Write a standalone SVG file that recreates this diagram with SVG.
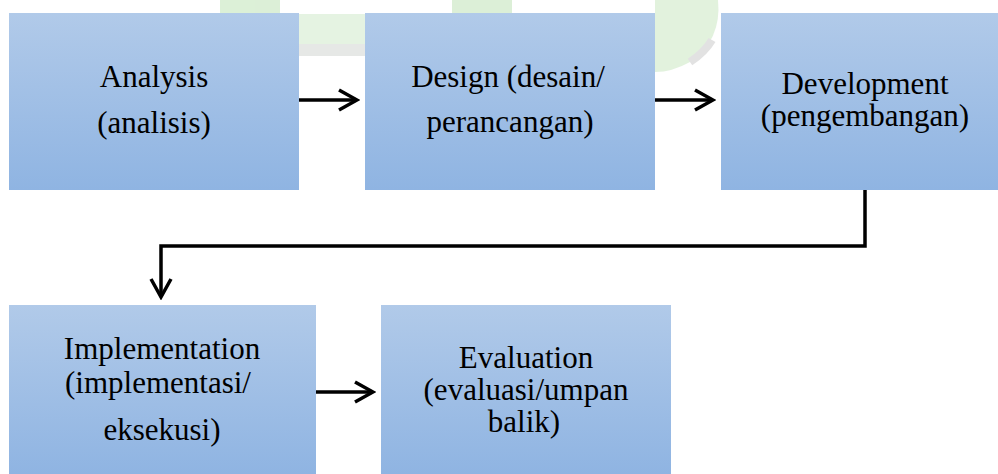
<svg xmlns="http://www.w3.org/2000/svg" width="998" height="474" viewBox="0 0 998 474">
<defs>
<linearGradient id="boxGrad" x1="0" y1="0" x2="0" y2="1">
<stop offset="0" stop-color="#b1cae9"/>
<stop offset="1" stop-color="#8fb4e2"/>
</linearGradient>
<marker id="chev" viewBox="0 0 24 24" markerWidth="24" markerHeight="24" refX="21" refY="12" orient="auto" markerUnits="userSpaceOnUse">
<path d="M3,2 L21,12 L3,22" fill="none" stroke="#000" stroke-width="3.5" stroke-linejoin="miter"/>
</marker>
</defs>
<style>
.box{fill:url(#boxGrad);}
.lbl{font-family:"Liberation Serif","Times New Roman",serif;font-size:31px;fill:#000;text-anchor:middle;}
.conn{fill:none;stroke:#000;stroke-width:3.5;}
</style>
<rect width="998" height="474" fill="#fff"/>
<g id="watermark" opacity="0.6">
<rect x="220" y="0" width="60" height="14" fill="#c5e6bd"/>
<rect x="299" y="14" width="66" height="34" fill="#d4ecd0"/>
<rect x="299" y="44" width="66" height="12" fill="#d6d9d6"/>
<rect x="452" y="0" width="60" height="14" fill="#c5e6bd"/>
<path d="M655,0 L718,0 Q722,40 690,62 Q672,72 655,72 Z" fill="#cfeac8"/>
<path d="M690,62 Q705,52 712,40" fill="none" stroke="#d0d0d0" stroke-width="8"/>
</g>
<g id="connectors">
<line class="conn" x1="299" y1="100" x2="357" y2="100" marker-end="url(#chev)"/>
<line class="conn" x1="655" y1="100" x2="713" y2="100" marker-end="url(#chev)"/>
<path class="conn" d="M865,189 L865,246 L161,246 L161,297" marker-end="url(#chev)"/>
<line class="conn" x1="316" y1="392" x2="373" y2="392" marker-end="url(#chev)"/>
</g>
<g id="analysis">
<rect class="box" x="9" y="13" width="290" height="177"/>
<text class="lbl" x="154" y="87">Analysis</text>
<text class="lbl" x="154" y="133">(analisis)</text>
</g>
<g id="design">
<rect class="box" x="365" y="13" width="290" height="177"/>
<text class="lbl" x="508" y="87">Design (desain/</text>
<text class="lbl" x="510" y="132">perancangan)</text>
</g>
<g id="development">
<rect class="box" x="721" y="13" width="277" height="177"/>
<text class="lbl" x="865" y="94">Development</text>
<text class="lbl" x="865" y="126">(pengembangan)</text>
</g>
<g id="implementation">
<rect class="box" x="9" y="305" width="307" height="169"/>
<text class="lbl" x="162" y="359">Implementation</text>
<text class="lbl" x="158" y="393">(implementasi/</text>
<text class="lbl" x="162" y="440">eksekusi)</text>
</g>
<g id="evaluation">
<rect class="box" x="381" y="305" width="290" height="169"/>
<text class="lbl" x="526" y="368">Evaluation</text>
<text class="lbl" x="526" y="400">(evaluasi/umpan</text>
<text class="lbl" x="524" y="432">balik)</text>
</g>
</svg>
